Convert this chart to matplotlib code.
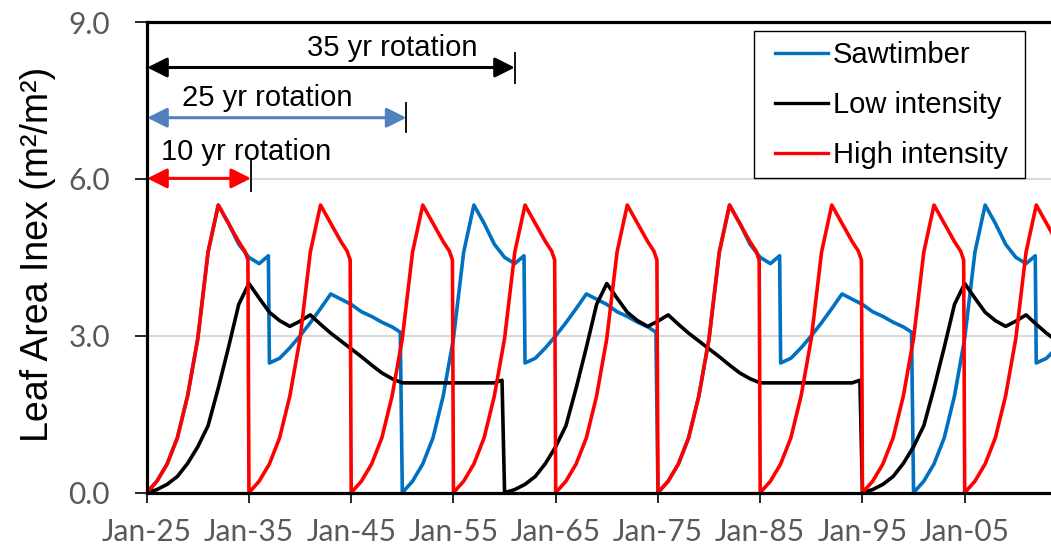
import matplotlib
matplotlib.use("Agg")
import matplotlib.pyplot as plt
from matplotlib.patches import Rectangle

# leaf area index by stand age for one rotation of each regime
hi_age = [0, 1, 2, 3, 4, 5, 6, 7, 8, 9, 9.6, 9.9, 10]
hi_lai = [0, 0.22, 0.55, 1.05, 1.85, 2.95, 4.6, 5.5, 5.15, 4.8, 4.62, 4.45, 0]

sw_age = [0, 1, 2, 3, 4, 5, 6, 7, 8, 9, 10, 11, 11.9, 12, 13, 14, 15, 16, 17,
          18, 19, 20, 21, 22, 23, 24, 24.8, 25]
sw_lai = [0, 0.22, 0.55, 1.05, 1.85, 2.95, 4.6, 5.5, 5.15, 4.75, 4.5, 4.38,
          4.53, 2.48, 2.57, 2.77, 3.0, 3.25, 3.52, 3.8, 3.7, 3.6, 3.46, 3.37,
          3.26, 3.17, 3.07, 0]

lo_age = [0, 1, 2, 3, 4, 5, 6, 7, 8, 9, 10, 11, 12, 13, 14, 15, 16, 17, 18, 19,
          20, 21, 22, 23, 24, 25, 26, 27, 28, 29, 30, 31, 32, 33, 34, 34.75, 35]
lo_lai = [0, 0.06, 0.16, 0.31, 0.56, 0.88, 1.28, 2.0, 2.78, 3.6, 4.0, 3.72,
          3.45, 3.29, 3.18, 3.28, 3.4, 3.22, 3.05, 2.9, 2.75, 2.6, 2.44, 2.29,
          2.18, 2.1, 2.1, 2.1, 2.1, 2.1, 2.1, 2.1, 2.1, 2.1, 2.1, 2.15, 0]

first_year = 2025
hi_rotation, sw_rotation, lo_rotation = 10, 25, 35
end_year = 2113.44

tick_years = [2025, 2035, 2045, 2055, 2065, 2075, 2085, 2095, 2105]
tick_labels = ["Jan-25", "Jan-35", "Jan-45", "Jan-55", "Jan-65",
               "Jan-75", "Jan-85", "Jan-95", "Jan-05"]
y_ticks = [0, 3, 6, 9]


def rotations(age, lai, length):
    # repeat the stand-age curve for every rotation in the plotted period
    x, y = [], []
    start = first_year
    while start < end_year:
        x += [start + a for a in age]
        y += lai
        start += length
    return x, y


W, H = 1051, 547
fig = plt.figure(figsize=(W / 100, H / 100), dpi=100)
ax = fig.add_axes([146.7 / W, 54.3 / H, 904.3 / W, 470.7 / H])

x, y = rotations(sw_age, sw_lai, sw_rotation)
ax.plot(x, y, color="#0070C0", lw=2.6, label="Sawtimber")
x, y = rotations(lo_age, lo_lai, lo_rotation)
ax.plot(x, y, color="black", lw=2.6, label="Low intensity")
x, y = rotations(hi_age, hi_lai, hi_rotation)
ax.plot(x, y, color="#FF0000", lw=2.6, label="High intensity")

ax.set_xlim(first_year, end_year)
ax.set_ylim(0, 9)
ax.set_xticks(tick_years)
ax.set_xticklabels(tick_labels)
ax.set_yticks(y_ticks)
ax.set_yticklabels(["%.1f" % v for v in y_ticks])

for lab in ax.get_xticklabels():
    lab.set_family("Lato")
    lab.set_fontsize(21.5)
    lab.set_color("#595959")
for lab in ax.get_yticklabels():
    lab.set_family("Lato")
    lab.set_fontsize(21.5)
    lab.set_color("#595959")
ax.tick_params(axis="y", length=8.4, width=1.2, pad=18)
ax.tick_params(axis="x", length=7.5, width=1.2, pad=11)

ax.grid(axis="y", color="#D9D9D9", lw=1.5)
ax.set_axisbelow(True)
for side in ["left", "bottom", "top"]:
    ax.spines[side].set_linewidth(2.3)
ax.spines["right"].set_visible(False)

ax.set_ylabel("Leaf Area Inex (m²/m²)", family="Liberation Sans", fontsize=27)
ax.yaxis.set_label_coords(-0.1003, 0.507)

# rotation length markers
arrows = [
    ("35 yr rotation", 2061.0, 8.13, "black", 2049.0, 8.35, 7.84, 8.40),
    ("25 yr rotation", 2050.4, 7.17, "#4F81BD", 2036.8, 7.39, 6.89, 7.46),
    ("10 yr rotation", 2035.2, 6.01, "#FF0000", 2034.7, 6.37, 5.76, 6.34),
]
for text, x_end, y_arr, col, x_txt, y_txt, bar_lo, bar_hi in arrows:
    ax.annotate("", xy=(x_end, y_arr), xytext=(first_year + 0.05, y_arr),
                arrowprops=dict(arrowstyle="<|-|>,head_length=0.6,head_width=0.3",
                                color=col, lw=2.2, mutation_scale=20,
                                shrinkA=0, shrinkB=0))
    ax.plot([x_end, x_end], [bar_lo, bar_hi], color="black", lw=1.3)
    ax.text(x_txt, y_txt, text, ha="center", va="baseline",
            family="Liberation Sans", fontsize=21)

# legend entries, with a square frame drawn separately behind them
leg = ax.legend(loc="upper left", bbox_to_anchor=(775 / W, 1 - 41 / H),
                bbox_transform=fig.transFigure, borderaxespad=0, borderpad=0,
                frameon=False, prop={"family": "Liberation Sans", "size": 21},
                handlelength=1.82, handletextpad=0.17, labelspacing=0.75)
for line in leg.get_lines():
    line.set_linewidth(2.4)
leg.set_zorder(6)
frame = Rectangle((754 / W, 1 - 178 / H), 271 / W, 147.3 / H,
                  transform=fig.transFigure, facecolor="white",
                  edgecolor="black", lw=1.0, zorder=5, clip_on=False)
ax.add_patch(frame)

fig.savefig("out.png", dpi=100)
